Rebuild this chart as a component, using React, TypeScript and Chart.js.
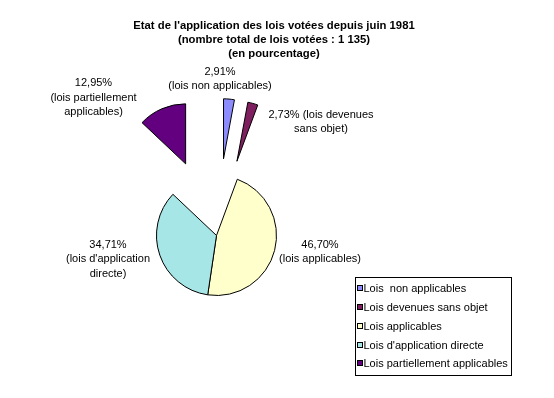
import { useEffect, useRef } from "react";
import { Chart, registerables } from "chart.js";

Chart.register(...registerables);

const categories = [
  "Lois  non applicables",
  "Lois devenues sans objet",
  "Lois applicables",
  "Lois d'application directe",
  "Lois partiellement applicables",
];
const values = [2.91, 2.73, 46.7, 34.71, 12.95];
const sliceLabels = [
  ["2,91%", "(lois non applicables)"],
  ["2,73% (lois devenues", "sans objet)"],
  ["46,70%", "(lois applicables)"],
  ["34,71%", "(lois d'application", "directe)"],
  ["12,95%", "(lois partiellement", "applicables)"],
];
const titleLines = [
  "Etat de l'application des lois votées depuis juin 1981",
  "(nombre total de lois votées : 1 135)",
  "(en pourcentage)",
];

// styling / layout (not data)
const colors = ["#8c8cff", "#7f1f5f", "#ffffcc", "#a6e6e6", "#620080"];
const explode = [77, 77, 0, 0, 78];
const labelAnchors = [
  { x: 220, y: 74.5, step: 14 },
  { x: 321, y: 118, step: 14 },
  { x: 320, y: 247.5, step: 14.5 },
  { x: 108, y: 247.5, step: 14.5 },
  { x: 93.5, y: 86, step: 14.5 },
];
const FONT = '"Liberation Sans", Arial, sans-serif';

const explodePlugin = {
  id: "explodeSlices",
  afterDatasetsUpdate(chart: any) {
    const meta = chart.getDatasetMeta(0);
    meta.data.forEach((arc: any, i: number) => {
      const d = explode[i] || 0;
      const mid = (arc.startAngle + arc.endAngle) / 2;
      arc.x += Math.cos(mid) * d;
      arc.y += Math.sin(mid) * d;
    });
  },
};

const textPlugin = {
  id: "texts",
  afterDraw(chart: any) {
    const ctx = chart.ctx as CanvasRenderingContext2D;
    ctx.save();
    ctx.fillStyle = "#000";
    ctx.textBaseline = "alphabetic";
    // title
    ctx.font = `bold 11.3px ${FONT}`;
    ctx.textAlign = "center";
    titleLines.forEach((t, i) => ctx.fillText(t, 274, 28.5 + i * 14));
    // slice labels
    ctx.font = `11px ${FONT}`;
    sliceLabels.forEach((lines, i) => {
      const a = labelAnchors[i];
      lines.forEach((t, j) => ctx.fillText(t, a.x, a.y + j * a.step));
    });
    // legend
    ctx.strokeStyle = "#000";
    ctx.lineWidth = 1;
    ctx.strokeRect(355.5, 277.5, 156, 98);
    ctx.textAlign = "left";
    categories.forEach((c, i) => {
      const cy = 288.3 + i * 18.75;
      ctx.fillStyle = colors[i];
      ctx.fillRect(357.5, Math.round(cy - 3) + 0.5, 5, 5);
      ctx.strokeRect(357.5, Math.round(cy - 3) + 0.5, 5, 5);
      ctx.fillStyle = "#000";
      ctx.fillText(c, 363.5, cy + 4);
    });
    ctx.restore();
  },
};

export default function App() {
  const ref = useRef<HTMLCanvasElement>(null);
  useEffect(() => {
    const chart = new Chart(ref.current!, {
      type: "pie",
      data: {
        labels: categories,
        datasets: [
          {
            data: values,
            backgroundColor: colors,
            borderColor: "#000",
            borderWidth: 1,
          },
        ],
      },
      options: {
        responsive: false,
        animation: false,
        devicePixelRatio: 1,
        radius: 60,
        layout: { padding: { left: 0, right: 121, top: 100, bottom: 27 } },
        plugins: {
          legend: { display: false },
          title: { display: false },
          tooltip: { enabled: false },
        },
        events: [],
      } as any,
      plugins: [explodePlugin, textPlugin],
    });
    return () => chart.destroy();
  }, []);
  return (
    <div style={{ position: "fixed", left: 0, top: 0, width: 554, height: 398, background: "#fff" }}>
      <canvas ref={ref} width={554} height={398} style={{ display: "block" }} />
    </div>
  );
}
